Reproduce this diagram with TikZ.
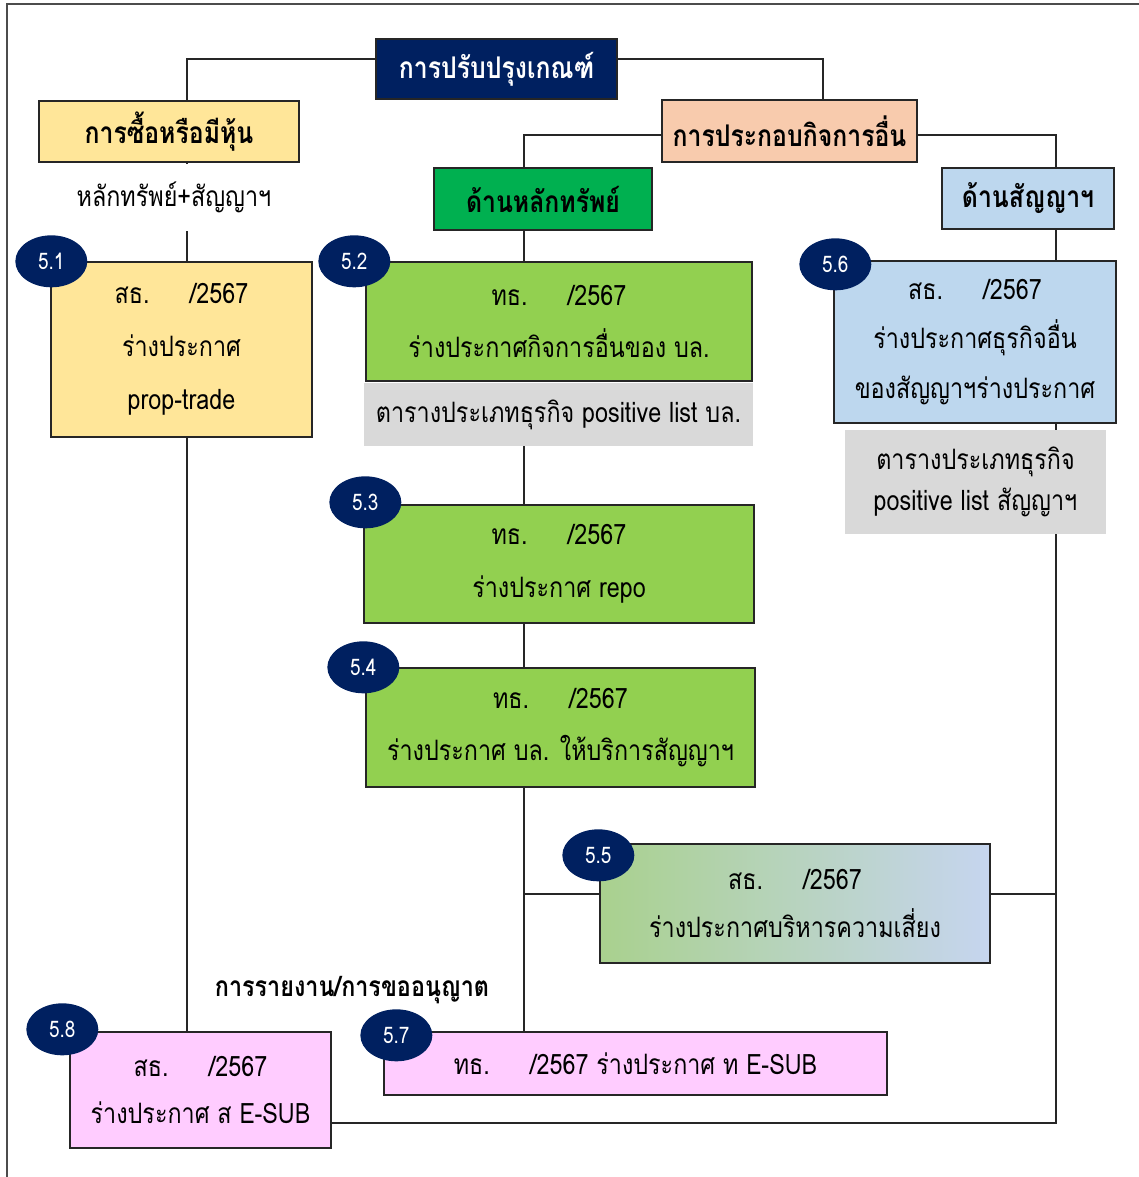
\documentclass[tikz,border=0pt]{standalone}
\usepackage{fontspec}
\setmainfont{Loma}[Script=Thai, FakeStretch=0.83]
\usepackage{xcolor}
\usetikzlibrary{shapes.geometric, calc, positioning}

\definecolor{navy}{HTML}{002060}
\definecolor{buyfill}{HTML}{FFE699}
\definecolor{otherfill}{HTML}{F8CBAD}
\definecolor{secfill}{HTML}{00B050}
\definecolor{futfill}{HTML}{BDD7EE}
\definecolor{limefill}{HTML}{92D050}
\definecolor{greyfill}{HTML}{D9D9D9}
\definecolor{pinkfill}{HTML}{FFCCFF}
\definecolor{riskleft}{HTML}{A9D18E}
\definecolor{riskright}{HTML}{C6D5EF}

\newcommand{\draftno}[1]{#1.\hspace{0.8cm}/2567}

\begin{document}
\begin{tikzpicture}[x=0.02cm, y=-0.02cm,
  box/.style={draw=black!85, line width=0.8pt, inner sep=0pt, align=center,
    font=\fontsize{16}{30}\selectfont},
  head/.style={draw=black!85, line width=0.8pt, inner sep=0pt,
    font=\bfseries\fontsize{17}{20}\selectfont},
  note/.style={fill=greyfill, inner sep=0pt, align=center},
  badge/.style={ellipse, fill=navy, text=white, inner sep=0pt,
    minimum width=1.44cm, minimum height=1.04cm, font=\fontsize{13}{14}\selectfont},
  link/.style={line width=0.6pt, black!85}]
  \useasboundingbox (0,0) rectangle (1139,1177);

  % outer frame
  \draw[black!70, line width=1pt] (7,1177) -- (7,4) -- (1139,4);

  % columns of the connectors
  \coordinate (spineA) at (187,0);
  \coordinate (spineB) at (823,0);
  \coordinate (spineC) at (524,0);
  \coordinate (spineD) at (1056,0);

  % top level
  \node[head, fill=navy, text=white, minimum width=4.82cm, minimum height=1.2cm]
    (top) at (496.5,69) {การปรับปรุงเกณฑ์};
  \node[head, fill=buyfill, minimum width=5.2cm, minimum height=1.22cm]
    (buy) at (169,131.5) {การซื้อหรือมีหุ้น};
  \node[head, fill=otherfill, minimum width=5.1cm, minimum height=1.24cm]
    (other) at (789.5,131) {การประกอบกิจการอื่น};
  \node[head, fill=secfill, minimum width=4.36cm, minimum height=1.24cm]
    (sec) at (543,199) {ด้านหลักทรัพย์};
  \node[head, fill=futfill, minimum width=3.44cm, minimum height=1.22cm]
    (fut) at (1028,198.5) {ด้านสัญญาฯ};
  \node[inner sep=0pt, minimum height=1.36cm, font=\fontsize{16}{20}\selectfont]
    (tag) at (174,197) {หลักทรัพย์+สัญญาฯ};

  % draft notices
  \node[box, fill=buyfill, minimum width=5.22cm, minimum height=3.5cm]
    (b51) at (181.5,349.5) {\draftno{สธ}\\ร่างประกาศ\\prop-trade};
  \node[box, fill=limefill, minimum width=7.72cm, minimum height=2.38cm]
    (b52) at (559,321.5) {\draftno{ทธ}\\ร่างประกาศกิจการอื่นของ บล.};
  \node[note, minimum width=7.78cm, minimum height=1.26cm, font=\fontsize{16}{20}\selectfont]
    (grey1) at (558.5,414.5) {ตารางประเภทธุรกิจ positive list บล.};
  \node[box, fill=limefill, minimum width=7.8cm, minimum height=2.36cm]
    (b53) at (559,564) {\draftno{ทธ}\\ร่างประกาศ repo};
  \node[box, fill=limefill, minimum width=7.78cm, minimum height=2.38cm]
    (b54) at (560.5,727.5) {\draftno{ทธ}\\ร่างประกาศ บล. ให้บริการสัญญาฯ};
  \node[box, left color=riskleft, right color=riskright, minimum width=7.8cm, minimum height=2.38cm,
    font=\fontsize{16}{27}\selectfont]
    (b55) at (795,903.5) {\draftno{สธ}\\ร่างประกาศบริหารความเสี่ยง};
  \node[box, fill=futfill, minimum width=5.64cm, minimum height=3.24cm,
    font=\fontsize{16}{28}\selectfont]
    (b56) at (975,342) {\draftno{สธ}\\ร่างประกาศธุรกิจอื่น\\ของสัญญาฯร่างประกาศ};
  \node[note, minimum width=5.22cm, minimum height=2.08cm, font=\fontsize{16}{23}\selectfont]
    (grey2) at (975.5,482) {ตารางประเภทธุรกิจ\\positive list สัญญาฯ};

  % reporting
  \node[inner sep=0pt, font=\bfseries\fontsize{16}{20}\selectfont]
    (report) at (352,990) {การรายงาน/การขออนุญาต};
  \node[box, fill=pinkfill, minimum width=5.22cm, minimum height=2.32cm,
    font=\fontsize{16}{27}\selectfont]
    (b58) at (200.5,1090) {\draftno{สธ}\\ร่างประกาศ ส E-SUB};
  \node[box, fill=pinkfill, minimum width=10.06cm, minimum height=1.26cm]
    (b57) at (635.5,1063.5) {\draftno{ทธ} ร่างประกาศ ท E-SUB};

  % connectors
  \draw[link] ([yshift=0.2cm]top.west) -| (buy.north -| spineA);
  \draw[link] ([yshift=0.2cm]top.east) -| (other.north -| spineB);
  \draw[link] ([yshift=-0.08cm]other.west) -| (sec.north -| spineC);
  \draw[link] ([yshift=-0.08cm]other.east) -| (fut.north -| spineD);
  \draw[link] (buy.south -| spineA) -- (tag.north -| spineA);
  \draw[link] (tag.south -| spineA) -- (b51.north -| spineA);
  \draw[link] (b51.south -| spineA) -- (b58.north -| spineA);
  \draw[link] (sec.south -| spineC) -- (b52.north -| spineC);
  \draw[link] (grey1.south -| spineC) -- (b53.north -| spineC);
  \draw[link] (b53.south -| spineC) -- (b54.north -| spineC);
  \draw[link] (b54.south -| spineC) -- (b57.north -| spineC);
  \draw[link] ([yshift=0.19cm]b55.west) -- ([yshift=0.19cm]b55.west -| spineC);
  \draw[link] ([yshift=0.19cm]b55.east) -- ([yshift=0.19cm]b55.east -| spineD);
  \draw[link] (fut.south -| spineD) -- (b56.north -| spineD);
  \draw[link] (b56.south -| spineD) -- (grey2.north -| spineD);
  \draw[link] (grey2.south -| spineD) |- ([yshift=-0.66cm]b58.east);

  % number badges
  \node[badge] (n51) at ($(b51.north west)+(1,0)$) {5.1};
  \node[badge] (n52) at ($(b52.north west)+(-11,0)$) {5.2};
  \node[badge] (n53) at ($(b53.north west)+(2,-2)$) {5.3};
  \node[badge] (n54) at ($(b54.north west)+(-2,0)$) {5.4};
  \node[badge] (n55) at ($(b55.north west)+(-1,12)$) {5.5};
  \node[badge] (n56) at ($(b56.north west)+(2,4)$) {5.6};
  \node[badge] (n58) at ($(b58.north west)+(-7,-2)$) {5.8};
  \node[badge] (n57) at ($(b57.north west)+(13,4)$) {5.7};
\end{tikzpicture}
\end{document}
